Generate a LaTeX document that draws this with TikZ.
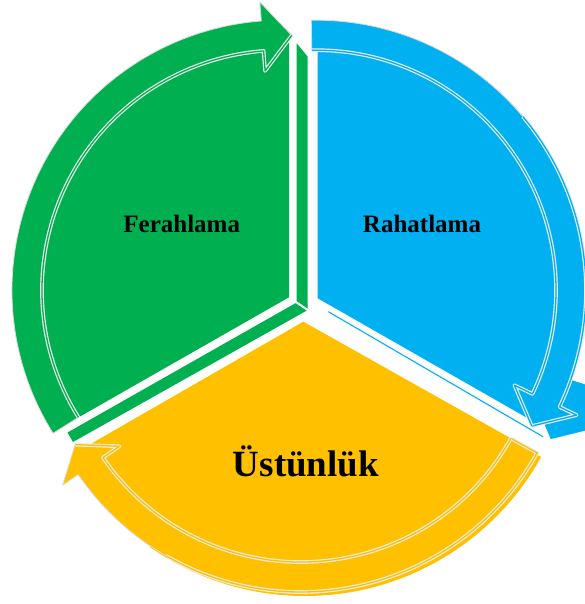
\documentclass[tikz,border=0pt]{standalone}
\usepackage{fontspec}
\setmainfont{Liberation Serif}
\usetikzlibrary{calc}

\definecolor{segGreen}{HTML}{00B050}
\definecolor{segBlue}{HTML}{00B0F0}
\definecolor{segYellow}{HTML}{FFC000}

\begin{document}
\begin{tikzpicture}[x=1pt, y=1pt,
		rim/.style={draw=black!14, line width=0.8pt, line join=round},
		seam/.style={draw=white!93!black, line width=1.2pt, double distance=1.3pt, line join=round},
		segtext/.style={anchor=base, text=black, font=\bfseries\fontsize{25}{25}\selectfont},
		bigtext/.style={segtext, font=\bfseries\fontsize{37}{37}\selectfont}
	]
		\useasboundingbox (0,0) rectangle (585,-604);

		% ring centres
		\coordinate (Ag) at (282,-290.2);
		\coordinate (Ab) at (316,-290.2);
		\coordinate (Ay) at (301,-322);

		% green segment
		\coordinate (Vg) at (289,-297.3);
		\coordinate (gTip) at ($(Ag)+(87.8:255)$);
		\coordinate (gBarb) at ($(Ag)+(94.4:220)$);
		\coordinate (gOut) at ($(Ag)+(94.4:289)$);
		\fill[segGreen] (296.7,-43.3) -- (307.7,-56.7) -- (307.7,-310) -- (73,-442)
			-- (67.5,-432.5) -- (296.7,-302.5) -- cycle;
		\draw[white, line width=2pt] (Vg) -- (307.7,-310);
		\fill[segGreen] (Vg) -- ($(Ag)+(212:240)$) -- ($(Ag)+(212:270)$)
			arc[start angle=212, end angle=94.4, radius=270] -- (gOut) -- (gTip)
			-- (289,-38.9) -- cycle;
		\draw[rim] ($(Ag)+(212:240)$) -- ($(Ag)+(212:270)$)
			arc[start angle=212, end angle=94.4, radius=270] -- (gOut) -- (gTip);
		\draw[seam, double=segGreen] ($(Ag)+(212:240)$)
			arc[start angle=212, end angle=94.4, radius=240] -- (gBarb) -- (gTip);

		% blue segment
		\coordinate (Vb) at (317.7,-298.3);
		\coordinate (bTip) at ($(Ab)+(-32.2:255)$);
		\coordinate (bBarb) at ($(Ab)+(-25.6:220)$);
		\coordinate (bOut) at ($(Ab)+(-25.6:289)$);
		\coordinate (Eb) at (528.7,-418.8);
		\fill[segBlue] ($(Ab)+(-18:240)+(19,-13)$) -- ($(Ab)+(-18:270)+(19,-13)$)
			-- ($(bOut)+(19,-13)$) -- ($(bTip)+(19,-13)$) -- ($(bBarb)+(19,-13)$) -- cycle;
		\fill[segBlue] ($(Ab)+(60:270)$) arc[start angle=60, end angle=-25.6, radius=270]
			-- ($(bOut)+(5,-3)$) -- ($(Ab)+(-25.6:240)$) -- cycle;
		\draw[segBlue, line width=1.1pt] (328.3,-311.7) -- (543,-436.7);
		\fill[segBlue] (Vb) -- (317.7,-50.2) -- ($(Ab)+(91:240)$) -- ($(Ab)+(91:270)$)
			arc[start angle=91, end angle=-25.6, radius=270] -- (bOut) -- (bTip)
			-- (Eb) -- cycle;
		\draw[rim] ($(Ab)+(91:240)$) -- ($(Ab)+(91:270)$)
			arc[start angle=91, end angle=40, radius=270];
		\draw[seam, double=segBlue] ($(Ab)+(40:270)$)
			arc[start angle=40, end angle=-25.6, radius=270] -- (bOut) -- (bTip);
		\draw[seam, double=segBlue] ($(Ab)+(91:240)$)
			arc[start angle=91, end angle=-25.6, radius=240] -- (bBarb) -- (bTip);

		% yellow segment
		\coordinate (Vy) at (303.3,-321.7);
		\coordinate (yTip) at ($(Ay)+(208.5:257)$);
		\coordinate (yBarb) at ($(Ay)+(214.4:220)$);
		\coordinate (yOut) at ($(Ay)+(214.4:289)$);
		\coordinate (Ey) at (88.7,-445.1);
		\coordinate (AyS) at (305,-326);
		\fill[segYellow] ($(AyS)+(235:240)$) -- ($(AyS)+(235:270)$)
			arc[start angle=235, end angle=331, radius=270] -- ($(AyS)+(331:240)$)
			arc[start angle=331, end angle=235, radius=240] -- cycle;
		\fill[segYellow] (Vy) -- (Ey) -- (yTip) -- (yOut) -- ($(Ay)+(214.4:270)$)
			arc[start angle=214.4, end angle=331, radius=270] -- ($(Ay)+(331:240)$) -- cycle;
		\draw[rim] (yTip) -- (yOut) -- ($(Ay)+(214.4:270)$)
			arc[start angle=214.4, end angle=240, radius=270];
		\draw[seam, double=segYellow] ($(Ay)+(240:270)$)
			arc[start angle=240, end angle=331, radius=270] -- ($(Ay)+(331:240)$);
		\draw[seam, double=segYellow] ($(Ay)+(331:240)$)
			arc[start angle=331, end angle=214.4, radius=240] -- (yBarb) -- (yTip);

		\node[segtext] (fer) at (181.7,-232.3) {Ferahlama};
		\node[segtext] (rah) at (422,-232.3) {Rahatlama};
		\node[bigtext] (ust) at (306,-476.7) {Üstünlük};
	\end{tikzpicture}
\end{document}
